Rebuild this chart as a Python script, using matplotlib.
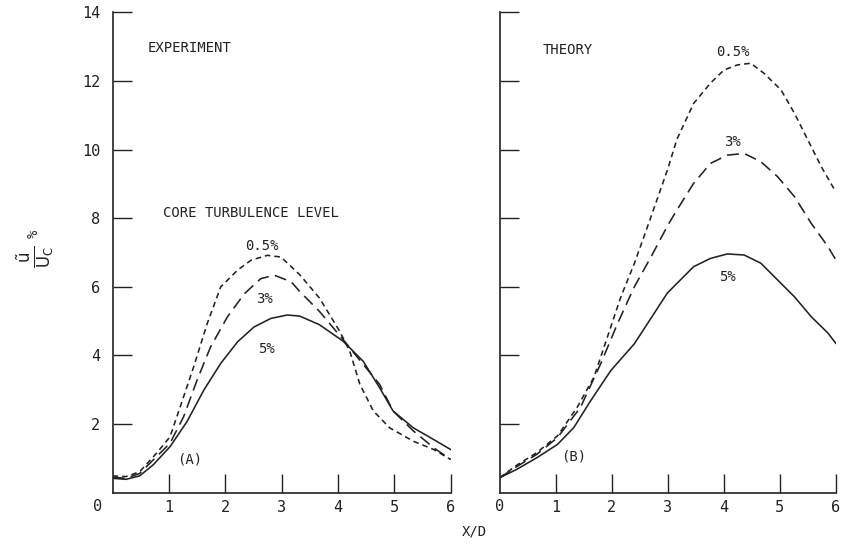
import numpy as np
import matplotlib.pyplot as plt

plt.rcParams['font.family'] = ['DejaVu Sans Mono']

# (A) experiment, core turbulence 0.5 %, 3 %, 5 %
exp_x_05 = [0.0, 0.24, 0.48, 0.78, 1.02, 1.2, 1.44, 1.68, 1.92, 2.22, 2.46, 2.75, 2.99,
            3.32, 3.67, 4.03, 4.21, 4.39, 4.63, 4.92, 5.34, 5.7, 6.0]
exp_y_05 = [0.49, 0.47, 0.61, 1.15, 1.63, 2.5, 3.67, 4.93, 6.0, 6.49, 6.78, 6.92, 6.87,
            6.36, 5.68, 4.71, 4.13, 3.16, 2.38, 1.89, 1.5, 1.26, 0.97]
exp_x_3 = [0.0, 0.24, 0.48, 0.78, 1.02, 1.26, 1.5, 1.74, 2.04, 2.34, 2.63, 2.87, 3.17,
           3.32, 3.67, 4.09, 4.45, 4.74, 4.98, 5.34, 5.7, 6.0]
exp_y_3 = [0.45, 0.42, 0.56, 1.05, 1.44, 2.21, 3.28, 4.25, 5.13, 5.8, 6.24, 6.34, 6.15,
           5.87, 5.29, 4.47, 3.74, 3.16, 2.38, 1.8, 1.31, 0.97]
exp_x_5 = [0.0, 0.24, 0.48, 0.72, 1.02, 1.32, 1.62, 1.92, 2.22, 2.51, 2.81, 3.1,
           3.32, 3.67, 4.09, 4.45, 4.74, 4.98, 5.34, 5.7, 6.0]
exp_y_5 = [0.42, 0.39, 0.49, 0.81, 1.34, 2.07, 2.99, 3.77, 4.4, 4.83, 5.08, 5.18,
           5.15, 4.9, 4.42, 3.83, 3.06, 2.38, 1.89, 1.55, 1.26]

# (B) theory
th_x_05 = [0.0, 0.3, 0.66, 1.03, 1.38, 1.68, 1.92, 2.16, 2.4, 2.7, 3.0, 3.16, 3.46, 3.76,
           4.0, 4.24, 4.48, 4.72, 5.02, 5.26, 5.5, 5.74, 5.98]
th_y_05 = [0.44, 0.8, 1.17, 1.66, 2.49, 3.37, 4.54, 5.71, 6.68, 8.05, 9.45, 10.3, 11.35, 11.94,
           12.32, 12.47, 12.52, 12.22, 11.74, 11.06, 10.28, 9.5, 8.82]
th_x_3 = [0.0, 0.3, 0.66, 1.03, 1.44, 1.8, 2.1, 2.4, 2.7, 3.0, 3.16, 3.46, 3.76, 4.06,
          4.36, 4.66, 4.96, 5.26, 5.56, 5.86, 6.0]
th_y_3 = [0.44, 0.76, 1.12, 1.61, 2.49, 3.76, 4.93, 6.0, 6.88, 7.8, 8.24, 9.02, 9.6, 9.84,
          9.89, 9.65, 9.21, 8.63, 7.85, 7.17, 6.78]
th_x_5 = [0.0, 0.3, 0.66, 1.03, 1.32, 1.62, 1.98, 2.4, 2.99, 3.16, 3.46, 3.76, 4.06,
          4.36, 4.66, 4.96, 5.26, 5.56, 5.86, 6.0]
th_y_5 = [0.44, 0.68, 1.02, 1.41, 1.9, 2.68, 3.56, 4.34, 5.82, 6.1, 6.59, 6.83, 6.96,
          6.93, 6.69, 6.2, 5.71, 5.13, 4.65, 4.35]

ink = '#222222'
short_dash = (0, (3.5, 2.5))
long_dash = (0, (7.5, 4))

fig = plt.figure(figsize=(8.43, 5.46), dpi=100)
ax1 = fig.add_axes([0.1335, 0.0976, 0.401, 0.8796])
ax2 = fig.add_axes([0.593, 0.0976, 0.3986, 0.8796])

for ax in (ax1, ax2):
    ax.set_xlim(0, 6)
    ax.set_ylim(0, 14)
    ax.spines['top'].set_visible(False)
    ax.spines['right'].set_visible(False)
    for s in ('left', 'bottom'):
        ax.spines[s].set_color(ink)
        ax.spines[s].set_linewidth(1.2)
    ax.set_xticks([1, 2, 3, 4, 5, 6])
    ax.set_yticks([2, 4, 6, 8, 10, 12, 14])
    ax.tick_params(direction='in', length=14, width=1.0, color=ink,
                   labelsize=11, labelcolor=ink)
    ax.tick_params(axis='x', pad=5)
    ax.tick_params(axis='y', pad=9)

ax1.set_yticklabels(['2', '4', '6', '8', '10', '12', '14'])
ax2.set_yticklabels([])
ax1.text(-0.26, -0.4, '0', fontsize=11, color=ink, ha='center', va='center')
ax2.text(0.0, -0.4, '0', fontsize=11, color=ink, ha='center', va='center')

lw = 1.15
ax1.plot(exp_x_05, exp_y_05, color=ink, lw=lw, linestyle=short_dash)
ax1.plot(exp_x_3, exp_y_3, color=ink, lw=lw, linestyle=long_dash)
ax1.plot(exp_x_5, exp_y_5, color=ink, lw=lw)

ax2.plot(th_x_05, th_y_05, color=ink, lw=lw, linestyle=short_dash)
ax2.plot(th_x_3, th_y_3, color=ink, lw=lw, linestyle=long_dash)
ax2.plot(th_x_5, th_y_5, color=ink, lw=lw)

fs = 10
ax1.text(0.62, 12.95, 'EXPERIMENT', fontsize=fs, color=ink, va='center')
ax1.text(0.9, 8.15, 'CORE TURBULENCE LEVEL', fontsize=fs, color=ink, va='center')
ax1.text(2.65, 7.2, '0.5%', fontsize=fs, color=ink, ha='center', va='center')
ax1.text(2.69, 5.65, '3%', fontsize=fs, color=ink, ha='center', va='center')
ax1.text(2.74, 4.2, '5%', fontsize=fs, color=ink, ha='center', va='center')
ax1.text(1.37, 0.97, '(A)', fontsize=fs, color=ink, ha='center', va='center')

ax2.text(0.77, 12.9, 'THEORY', fontsize=fs, color=ink, va='center')
ax2.text(4.16, 12.86, '0.5%', fontsize=fs, color=ink, ha='center', va='center')
ax2.text(4.16, 10.23, '3%', fontsize=fs, color=ink, ha='center', va='center')
ax2.text(4.07, 6.3, '5%', fontsize=fs, color=ink, ha='center', va='center')
ax2.text(1.32, 1.07, '(B)', fontsize=fs, color=ink, ha='center', va='center')

fig.text(0.563, 0.027, 'X/D', fontsize=fs, color=ink, ha='center', va='center')
fig.text(0.0415, 0.53, r'$\frac{\tilde{\mathrm{u}}}{\mathrm{U_C}}$', fontsize=17,
         color=ink, rotation=90, ha='center', va='center')
fig.text(0.04, 0.572, '%', fontsize=10, color=ink, rotation=90,
         ha='center', va='center')

fig.savefig('out.png', dpi=100)
